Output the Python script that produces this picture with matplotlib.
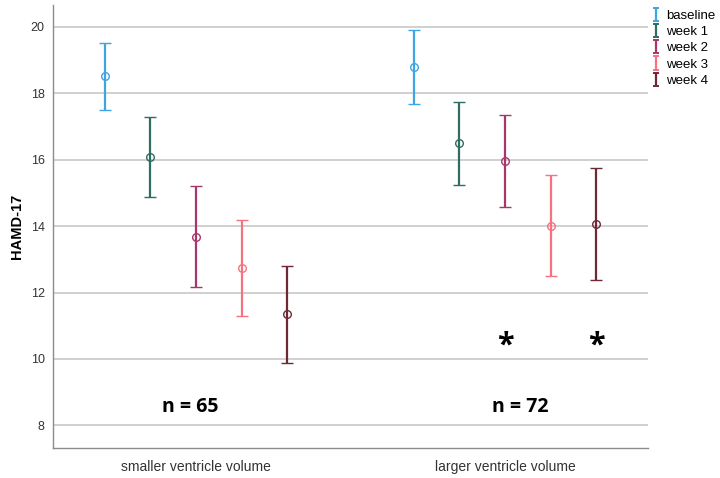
import matplotlib
matplotlib.use("Agg")
import matplotlib.pyplot as plt
import numpy as np

# Data
groups = ["smaller ventricle volume", "larger ventricle volume"]
weeks = ["baseline", "week 1", "week 2", "week 3", "week 4"]
colors = ["#3ea4e2", "#2f6d63", "#a8356c", "#f7717f", "#6d2a36"]

means_small = [18.52, 16.08, 13.68, 12.75, 11.36]
upper_small = [19.52, 17.30, 15.21, 14.20, 12.81]
lower_small = [17.50, 14.87, 12.17, 11.30, 9.88]

means_large = [18.80, 16.49, 15.97, 14.01, 14.07]
upper_large = [19.91, 17.73, 17.36, 15.55, 15.74]
lower_large = [17.69, 15.25, 14.58, 12.49, 12.39]

n_labels = ["n = 65", "n = 72"]
star_weeks = ["week 2", "week 4"]  # significant in larger group

plt.rcParams["font.family"] = ["Liberation Sans", "DejaVu Sans"]

fig = plt.figure(figsize=(7.2, 4.78), dpi=100)
ax = fig.add_axes([0.0736, 0.0628, 0.8264, 0.9267])

offsets = np.array([-2, -1, 0, 1, 2]) * 0.1475
for g, (m, up, lo) in enumerate([(means_small, upper_small, lower_small),
                                  (means_large, upper_large, lower_large)]):
    for i, w in enumerate(weeks):
        yerr = [[m[i] - lo[i]], [up[i] - m[i]]]
        ax.errorbar(g + offsets[i], m[i], yerr=yerr, fmt="o", mfc="none",
                    mec=colors[i], ecolor=colors[i], color=colors[i],
                    markersize=5.5, mew=1.0, elinewidth=1.6, capsize=4,
                    capthick=1.4, zorder=3)

# legend proxies: error bar only, no marker
handles = []
for i, w in enumerate(weeks):
    h = ax.errorbar([np.nan], [np.nan], yerr=[[0.5], [0.5]], fmt="none",
                    ecolor=colors[i], elinewidth=1.6, capsize=2.5,
                    capthick=1.4, label=w)
    handles.append(h)

# annotations
for g, txt in enumerate(n_labels):
    ax.text(g - 0.02 + g * 0.07, 8.55, txt, ha="center", va="center",
            fontsize=14, fontweight="bold", family=["Open Sans", "DejaVu Sans"])
for w in star_weeks:
    i = weeks.index(w)
    ax.text(1 + offsets[i], 10.4, "*", ha="center", va="center",
            fontsize=22, fontweight="bold", family=["Open Sans", "DejaVu Sans"])

ax.set_xlim(-0.463, 1.463)
ax.set_ylim(7.32, 20.66)
ax.set_yticks(range(8, 21, 2))
ax.set_xticks([0, 1])
ax.set_xticklabels(groups, fontsize=10, color="#333333")
ax.tick_params(axis="y", labelsize=9, colors="#333333", length=0, pad=6)
ax.tick_params(axis="x", length=0, pad=9)
ax.grid(axis="y", color="#c8c8c8", linewidth=1.2)
ax.set_axisbelow(True)
for s in ["top", "right"]:
    ax.spines[s].set_visible(False)
for s in ["left", "bottom"]:
    ax.spines[s].set_color("#8c8c8c")
    ax.spines[s].set_linewidth(1.0)
ax.set_ylabel("HAMD-17", fontsize=10.5, fontweight="bold", labelpad=5)

leg = ax.legend(handles=handles, labels=weeks, loc="upper left",
                bbox_to_anchor=(1.0, 0.998), frameon=False,
                fontsize=9.5, handlelength=0.6, handletextpad=0.5,
                labelspacing=0.3, borderaxespad=0.0, borderpad=0.3)

fig.savefig("out.png", dpi=100)
